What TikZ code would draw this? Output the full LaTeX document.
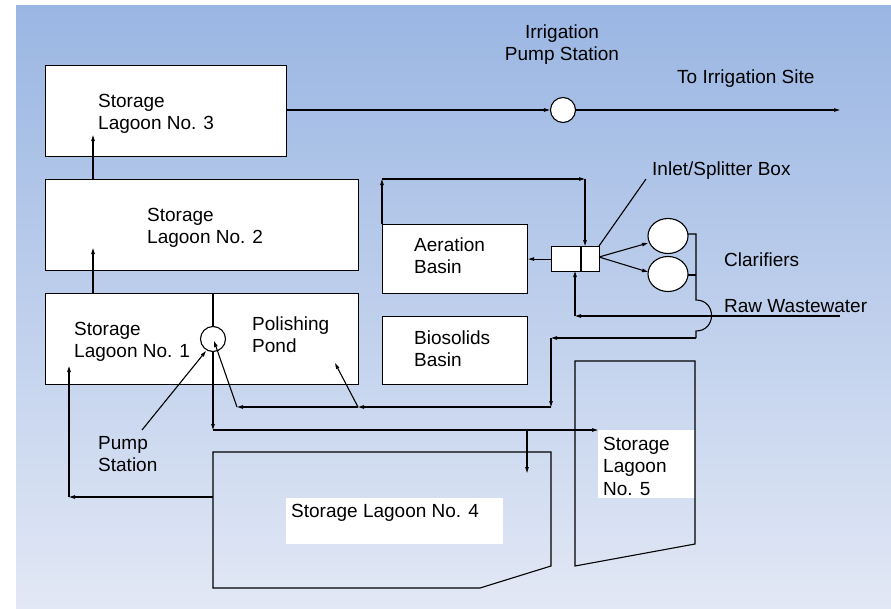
\documentclass[tikz,border=0pt]{standalone}
\usepackage{fontspec}
\setmainfont{Liberation Sans}
\usetikzlibrary{arrows.meta,shapes.geometric}
\definecolor{bgtop}{RGB}{154,182,227}
\definecolor{bgbot}{RGB}{226,232,245}
\begin{document}
\begin{tikzpicture}[x=1pt,y=-1pt,
  ln/.style={line width=1.1pt, draw=black},
  arr/.style={ln, -{Triangle[length=6pt,width=3.4pt]}},
  box/.style={draw, fill=white, line width=1.1pt, inner sep=0pt, anchor=north west},
  pumpc/.style={draw, fill=white, circle, line width=1.1pt, inner sep=0pt, minimum size=25pt},
  clar/.style={draw, fill=white, ellipse, line width=1.1pt, inner sep=0pt, minimum width=40pt, minimum height=35pt},
  txt/.style={inner sep=0pt, anchor=base west, align=left, font=\fontsize{19}{22.5}\selectfont},
  lbl/.style={fill=white, draw=none}]
\useasboundingbox (0,0) rectangle (891,608);
\fill[white] (0,0) rectangle (891,608);
\shade[top color=bgtop, bottom color=bgbot] (16,5) rectangle (891,608);

% boxes
\node[box, minimum width=241pt, minimum height=91pt] (L3) at (45,65) {};
\node[box, minimum width=313pt, minimum height=91pt] (L2) at (45,179) {};
\node[box, minimum width=313pt, minimum height=91pt] (L1) at (45,293) {};
\node[box, minimum width=145pt, minimum height=69pt] (AB) at (382,224) {};
\node[box, minimum width=145pt, minimum height=68pt] (BB) at (382,316) {};
\node[box, minimum width=48pt, minimum height=25pt] (S) at (551,246) {};
\draw[ln] (581,246) -- (581,271);

% lagoon 4 and 5
\fill[lbl] (286,498) rectangle (503,544);
\draw[ln] (213,452) -- (551,452) -- (551,566) -- (480,588) -- (213,588) -- cycle;
\fill[lbl] (598,430) rectangle (695,498);
\draw[ln] (575,361) -- (695,361) -- (695,544) -- (575,566) -- cycle;

% pumps and clarifiers
\node[pumpc] (P) at (213,339) {};
\node[pumpc] (IP) at (563,110) {};
\node[clar] (C1) at (668,236) {};
\node[clar] (C2) at (668,274) {};

% named points
\coordinate (l1a) at (93,293);  \coordinate (l2a) at (93,248);
\coordinate (l2b) at (93,179);  \coordinate (l3b) at (93,135);
\coordinate (l3e) at (286,110);
\coordinate (site) at (840,110);
\coordinate (div) at (213,293);
\coordinate (pd) at (213,430);
\coordinate (l5in) at (598,430);
\coordinate (br4) at (527,430);  \coordinate (l4in) at (527,473);
\coordinate (psl) at (142,430);  \coordinate (psp) at (206,351);
\coordinate (l4w) at (213,497);  \coordinate (rl) at (69,497); \coordinate (l1in) at (69,366);
\coordinate (abt) at (382,224);  \coordinate (a1) at (382,179); \coordinate (a2) at (585,179); \coordinate (st) at (585,246);
\coordinate (sbl) at (646,179); \coordinate (sbc) at (599,246);
\coordinate (se) at (599,257);
\coordinate (c1w) at (648,243); \coordinate (c2w) at (648,272);
\coordinate (c1e) at (688,234); \coordinate (c2e) at (688,275);
\coordinate (r1) at (696,234); \coordinate (r2) at (696,275);
\coordinate (bump1) at (696,300); \coordinate (bump2) at (696,331);
\coordinate (r3) at (696,338); \coordinate (r4) at (551,338);
\coordinate (r5) at (551,407); \coordinate (r6) at (358,407); \coordinate (r7) at (237,407);
\coordinate (pc) at (214,341); \coordinate (ppin) at (335,363);
\coordinate (rw) at (840,316); \coordinate (rw2) at (575,316); \coordinate (sb) at (575,271);

% connectors
\draw[arr] (l1a) -- (l2a);
\draw[arr] (l2b) -- (l3b);
\draw[arr] (l3e) -- (IP.west);
\draw[arr] (IP.east) -- (site);
\draw[ln] (div) -- (P.north);
\draw[arr] (P.south) -- (pd);
\draw[arr] (pd) -- (l5in);
\draw[arr] (br4) -- (l4in);
\draw[arr] (psl) -- (psp);
\draw[arr] (l4w) -- (rl);
\draw[arr] (rl) -- (l1in);
\draw[arr] (abt) -- (a1);
\draw[arr] (a1) -- (a2);
\draw[arr] (a2) -- (st);
\draw[arr] (S.west) -- (AB.east |- S.west);
\draw[ln] (sbl) -- (sbc);
\draw[arr] (se) -- (c1w);
\draw[arr] (se) -- (c2w);
\draw[ln] (c1e) -- (r1) -- (r2) -- (bump1) .. controls (716.7,300) and (716.7,331) .. (bump2) -- (r3);
\draw[ln] (c2e) -- (r2);
\draw[arr] (r3) -- (r4);
\draw[arr] (r4) -- (r5);
\draw[arr] (r5) -- (r6);
\draw[arr] (r6) -- (r7);
\draw[arr] (r7) -- (pc);
\draw[arr] (r6) -- (ppin);
\draw[arr] (rw) -- (rw2);
\draw[arr] (rw2) -- (sb);

% texts (base anchor = baseline of last line)
\node[txt] (t3) at (98,129.5) {Storage\\Lagoon No. 3};
\node[txt] (t2) at (147,243.5) {Storage\\Lagoon No. 2};
\node[txt] (t1) at (74,357.5) {Storage\\Lagoon No. 1};
\node[txt] (tpp) at (252,352.5) {Polishing\\Pond};
\node[txt] (tab) at (414,273.5) {Aeration\\Basin};
\node[txt] (tbb) at (414,366.5) {Biosolids\\Basin};
\node[txt, anchor=base, align=center] (tip) at (562,60.5) {Irrigation\\Pump Station};
\node[txt] (tis) at (677,83) {To Irrigation Site};
\node[txt] (tsb) at (652,175) {Inlet/Splitter Box};
\node[txt] (tcl) at (724,266) {Clarifiers};
\node[txt] (trw) at (724,312) {Raw Wastewater};
\node[txt] (tps) at (98,471.5) {Pump\\Station};
\node[txt] (t4) at (291,517) {Storage Lagoon No. 4};
\node[txt] (t5) at (603,495) {Storage\\Lagoon\\No. 5};
\end{tikzpicture}
\end{document}
